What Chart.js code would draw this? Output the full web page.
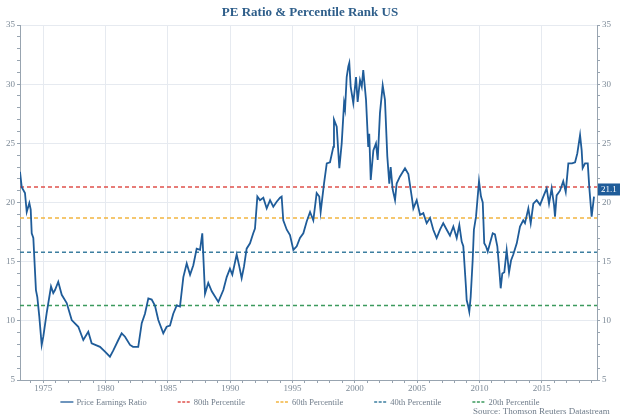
<!DOCTYPE html>
<html><head><meta charset="utf-8">
<script src="https://cdn.jsdelivr.net/npm/chart.js@4/dist/chart.umd.min.js"></script>
<style>html,body{margin:0;padding:0;background:#fff}#wrap{width:620px;height:414px;position:relative;overflow:hidden}</style>
</head><body><div id="wrap"><canvas id="c" width="620" height="414"></canvas></div>
<script>
const chartTitle = 'PE Ratio & Percentile Rank US';
const sourceText = 'Source: Thomson Reuters Datastream';
const seriesName = 'Price Earnings Ratio';
const years = [1973.13,1973.27,1973.53,1973.67,1973.88,1973.99,1974.07,1974.20,1974.41,1974.52,
1974.68,1974.87,1975.00,1975.27,1975.62,1975.80,1975.94,1976.20,1976.48,1976.88,
1977.28,1977.81,1978.21,1978.61,1978.88,1979.55,1979.95,1980.35,1980.62,1981.02,
1981.29,1981.56,1981.96,1982.20,1982.62,1982.90,1983.16,1983.43,1983.70,1983.96,
1984.23,1984.63,1984.90,1985.17,1985.43,1985.71,1985.97,1986.24,1986.51,1986.78,
1987.04,1987.31,1987.58,1987.76,1987.98,1988.24,1988.52,1989.05,1989.45,1989.72,
1989.98,1990.17,1990.52,1990.73,1990.92,1991.11,1991.32,1991.59,1991.85,1991.99,
1992.18,1992.39,1992.66,1992.93,1993.20,1993.46,1993.73,1994.00,1994.13,1994.26,
1994.54,1994.80,1995.07,1995.34,1995.60,1995.87,1996.14,1996.41,1996.67,1996.94,
1997.15,1997.26,1997.53,1997.75,1998.01,1998.28,1998.33,1998.55,1998.76,1998.95,
1999.14,1999.22,1999.35,1999.48,1999.56,1999.67,1999.88,2000.10,2000.23,2000.42,
2000.56,2000.68,2000.90,2001.08,2001.16,2001.28,2001.49,2001.70,2001.84,2002.02,
2002.24,2002.42,2002.61,2002.77,2002.88,2003.04,2003.23,2003.36,2003.63,2004.03,
2004.30,2004.57,2004.70,2004.97,2005.24,2005.50,2005.77,2006.04,2006.30,2006.57,
2006.84,2007.10,2007.38,2007.64,2007.91,2008.18,2008.39,2008.58,2008.71,2008.92,
2008.98,2009.11,2009.19,2009.30,2009.46,2009.56,2009.73,2009.97,2010.13,2010.27,
2010.39,2010.53,2010.67,2010.85,2011.07,2011.25,2011.44,2011.57,2011.71,2011.84,
2012.00,2012.19,2012.38,2012.54,2012.72,2013.00,2013.26,2013.52,2013.66,2013.93,
2014.12,2014.33,2014.60,2014.87,2015.13,2015.40,2015.59,2015.80,2015.99,2016.07,
2016.20,2016.47,2016.73,2016.93,2017.14,2017.44,2017.68,2017.86,2018.08,2018.21,
2018.29,2018.48,2018.70,2018.82,2019.01,2019.20];
const peValues = [22.6,21.3,20.8,19.2,19.96,19.4,17.4,17.0,12.6,12.0,
10.35,7.96,8.66,10.66,12.9,12.35,12.6,13.3,12.2,11.5,
10.07,9.5,8.38,9.08,8.1,7.8,7.4,6.97,7.5,8.38,
8.95,8.66,7.96,7.8,7.8,9.8,10.6,11.9,11.8,11.3,
10.07,8.95,9.5,9.6,10.6,11.3,11.2,13.7,14.85,13.9,
14.7,16.1,16.0,17.4,12.3,13.2,12.5,11.6,12.6,13.7,
14.4,13.9,15.6,14.6,13.6,14.6,16.1,16.55,17.4,17.8,
20.5,20.2,20.4,19.5,20.2,19.65,20.06,20.4,20.5,18.5,
17.7,17.25,16.0,16.3,17.0,17.4,18.4,19.2,18.5,20.8,
20.5,19.2,21.6,23.3,23.4,24.7,27.0,26.4,22.9,25.0,
28.4,27.9,30.6,31.5,31.8,29.8,28.4,30.6,28.5,30.35,
29.8,31.2,28.7,24.7,25.8,21.9,24.4,25.0,23.6,27.55,
29.9,28.7,23.9,21.6,23.0,21.1,20.2,21.6,22.2,22.9,
22.4,20.5,19.5,20.2,18.95,19.1,18.25,18.7,17.7,17.0,
17.7,18.25,17.7,17.2,17.97,17.0,18.1,16.7,16.3,12.9,
11.76,11.2,10.77,12.0,15.1,17.7,18.8,21.8,20.5,20.0,
16.55,16.3,15.85,16.55,17.4,17.3,16.3,14.7,12.75,14.0,
14.1,15.97,14.1,15.1,15.6,16.55,17.97,18.5,18.25,19.5,
18.25,19.9,20.2,19.8,20.5,21.2,19.9,21.2,19.8,18.8,
20.6,21.0,21.8,20.9,23.3,23.3,23.4,24.15,25.7,24.4,
22.9,23.3,23.3,21.3,18.8,20.5];
const percentileNames = ['80th Percentile','60th Percentile','40th Percentile','20th Percentile'];
const percentileValues = [21.3, 18.7, 15.8, 11.3];
const percentileColors = ['#e0524c','#f2b540','#3d7fa0','#3c9a5e'];
const lastValue = 21.1;
const xRange = [1973.13, 2019.44];
const yRange = [5, 35];
const xLabelStep = 5;
const yLabelStep = 5;

const lineColor = '#1f5c99';
const serif = "'Liberation Serif', 'DejaVu Serif', serif";
const axisColor = '#98a4b0';
const labelColor = '#7d8a97';
const gridColor = '#e6eaf0';

const isMajor = (v, step) => Math.abs(v / step - Math.round(v / step)) < 1e-6;

const datasets = [{
  label: seriesName,
  data: years.map((y, i) => ({x: y, y: peValues[i]})),
  borderColor: lineColor, borderWidth: 1.8, pointRadius: 0, tension: 0, yAxisID: 'y'
}];
percentileNames.forEach((n, i) => datasets.push({
  label: n,
  data: [{x: xRange[0], y: percentileValues[i]}, {x: xRange[1], y: percentileValues[i]}],
  borderColor: percentileColors[i], borderWidth: 1.5, borderDash: [4, 3],
  pointRadius: 0, yAxisID: 'y'
}));

const extras = {
  id: 'extras',
  afterDraw(chart) {
    const ctx = chart.ctx, ca = chart.chartArea;
    const yS = chart.scales.y;
    const yv = yS.getPixelForValue(lastValue);
    ctx.save();
    ctx.fillStyle = lineColor;
    ctx.fillRect(ca.right + 1, yv - 6, 620 - ca.right - 1, 12);
    ctx.fillStyle = '#ffffff';
    ctx.font = '9px ' + serif;
    ctx.textBaseline = 'middle';
    ctx.textAlign = 'left';
    ctx.fillText(lastValue.toFixed(1), ca.right + 4, yv + 0.5);
    ctx.font = '8.5px ' + serif;
    const lineW = 13, gapT = 3, gapI = 31;
    const items = datasets.map(d => ({t: d.label, c: d.borderColor, dash: d.borderDash || []}));
    let total = 0;
    items.forEach((it, i) => { it.w = ctx.measureText(it.t).width; total += lineW + gapT + it.w + (i < items.length - 1 ? gapI : 0); });
    let x = 300 - total / 2;
    const ly = 402;
    items.forEach(it => {
      ctx.beginPath();
      ctx.setLineDash(it.dash.length ? [3, 1.5] : []);
      ctx.strokeStyle = it.c; ctx.lineWidth = 1.3;
      ctx.moveTo(x, ly); ctx.lineTo(x + lineW, ly); ctx.stroke();
      ctx.setLineDash([]);
      ctx.fillStyle = '#6f7c8a';
      ctx.fillText(it.t, x + lineW + gapT, ly + 0.5);
      x += lineW + gapT + it.w + gapI;
    });
    ctx.font = '9px ' + serif;
    ctx.textBaseline = 'top';
    ctx.fillStyle = '#6f7c8a';
    ctx.fillText(sourceText, 473, 407);
    ctx.restore();
  }
};

new Chart(document.getElementById('c'), {
  type: 'line',
  data: {datasets},
  options: {
    responsive: false, animation: false, devicePixelRatio: 1,
    layout: {padding: {left: 0, right: 0, top: 0, bottom: 22}},
    plugins: {
      legend: {display: false}, tooltip: {enabled: false},
      title: {display: true, text: chartTitle, color: '#2e5e8a',
        font: {family: serif, size: 13, weight: 'bold'}, padding: {top: 5, bottom: 4.4}}
    },
    scales: {
      x: {
        type: 'linear', min: xRange[0], max: xRange[1],
        afterFit(s) { s.height = 12; },
        ticks: {stepSize: 1, includeBounds: false, autoSkip: false, maxRotation: 0, padding: 0,
          color: labelColor, font: {family: serif, size: 9},
          callback: v => isMajor(v, xLabelStep) ? String(Math.round(v)) : ''},
        grid: {color: c => (c.tick && isMajor(c.tick.value, xLabelStep)) ? gridColor : 'rgba(0,0,0,0)',
          tickColor: axisColor, tickLength: 3, drawTicks: true},
        border: {display: true, color: axisColor}
      },
      y: {
        type: 'linear', position: 'left', min: yRange[0], max: yRange[1],
        afterFit(s) { s.width = 20; },
        ticks: {stepSize: 1, autoSkip: false, padding: 2, color: labelColor, font: {family: serif, size: 9},
          callback: v => isMajor(v, yLabelStep) ? String(v) : ''},
        grid: {color: c => (c.tick && isMajor(c.tick.value, yLabelStep)) ? gridColor : 'rgba(0,0,0,0)',
          tickColor: axisColor, tickLength: 3},
        border: {display: true, color: axisColor}
      },
      y2: {
        type: 'linear', position: 'right', min: yRange[0], max: yRange[1],
        afterFit(s) { s.width = 23; },
        ticks: {stepSize: 1, autoSkip: false, padding: 2, color: labelColor, font: {family: serif, size: 9},
          callback: v => isMajor(v, yLabelStep) ? String(v) : ''},
        grid: {drawOnChartArea: false, tickColor: axisColor, tickLength: 3},
        border: {display: true, color: axisColor}
      }
    }
  },
  plugins: [extras]
});
</script>
</body></html>
